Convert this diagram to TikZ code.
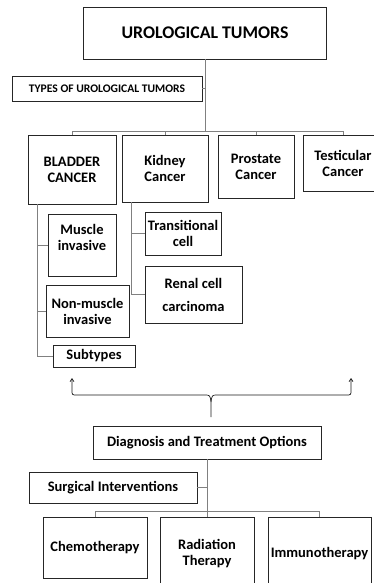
\documentclass[tikz,border=0pt]{standalone}
\usepackage{fontspec}
\setmainfont{Carlito}
\usetikzlibrary{
    positioning,                      % right=of, below=of
    arrows.meta                       % Straight Barb
}
\definecolor{linkgray}{RGB}{128,128,128}

\begin{document}
\begin{tikzpicture}[
        x=1pt, y=-1pt, font=\bfseries,
        box/.style={draw=black!85, line width=0.7pt, align=center, inner sep=1pt,
            font=\bfseries\fontsize{14.5}{16}\selectfont},
        head/.style={box, line width=0.9pt, font=\bfseries\fontsize{17.8}{20}\selectfont},
        small/.style={box, font=\bfseries\fontsize{11.6}{13}\selectfont},
        link/.style={draw=linkgray, line width=0.7pt},
        brace/.style={draw=black!90, line width=0.7pt, {Straight Barb[length=3pt,width=4pt]}-}]
        \useasboundingbox (0,0) rectangle (373,583);
        \node[head, minimum width=243, minimum height=52] (title) at (205,33) {UROLOGICAL TUMORS};
        \node[small, minimum width=190, minimum height=25] (types) at (107,88.5) {TYPES OF UROLOGICAL TUMORS};
        \coordinate (hub) at (205,131);
        \node[box, minimum width=88, minimum height=69] (bladder) at (72,169.5) {BLADDER\\CANCER};
        \node[box, minimum width=86, minimum height=67] (kidney) at (165,168.5) {Kidney\\Cancer};
        \node[box, minimum width=76, minimum height=63] (prostate) at (256,166.5) {Prostate\\Cancer};
        \node[box, minimum width=80, minimum height=56] (testicular) at (343,163) {Testicular\\Cancer};
        \node[box, minimum width=68, minimum height=62,
            label={[align=center, yshift=7.5pt, font=\bfseries\fontsize{14.5}{16}\selectfont]center:Muscle\\invasive}] (muscle) at (82,245) {};
        \node[box, minimum width=83, minimum height=52] (nonmuscle) at (87.5,311) {Non-muscle\\invasive};
        \node[box, minimum width=82, minimum height=22] (subtypes) at (94,356) {Subtypes};
        \node[box, minimum width=76, minimum height=43] (transitional) at (183,233.5) {Transitional\\cell};
        \node[box, minimum width=97, minimum height=57] (renal) at (193.5,294.5) {Renal cell\\[7pt]carcinoma};
        \coordinate (bspine) at ([xshift=-35pt]bladder.south);
        \coordinate (kspine) at ([xshift=-34pt]kidney.south);
        \draw[link] (title) -- (hub);
        \draw[link] (types.east) -- (types.east -| hub);
        \draw[link] (bladder.north) |- (hub);
        \draw[link] (kidney.north) |- (hub);
        \draw[link] (prostate.north) |- (hub);
        \draw[link] (testicular.north) |- (hub);
        \draw[link] (bspine) |- (subtypes.west);
        \draw[link] (muscle.west) -- (muscle.west -| bspine);
        \draw[link] (nonmuscle.west) -- (nonmuscle.west -| bspine);
        \draw[link] (kspine) |- (renal.west);
        \draw[link] (transitional.west) -- (transitional.west -| kspine);
        \coordinate (braceL) at (72,378);
        \coordinate (braceR) at (351,378);
        \coordinate (braceTip) at (211,417);
        \draw[brace] (braceL) -- (72,390) .. controls (72,395) .. (77,395) -- (204,395)
            .. controls (210,395) .. (211,402) -- (braceTip);
        \draw[brace] (braceR) -- (351,390) .. controls (351,395) .. (346,395) -- (218,395)
            .. controls (212,395) .. (211,402);
        \node[box, minimum width=228, minimum height=33] (diag) at (207,442.5) {Diagnosis and Treatment Options};
        \node[box, minimum width=168, minimum height=31] (surgical) at (113,487.5) {Surgical Interventions};
        \coordinate (thub) at (207,511);
        \node[box, minimum width=104, minimum height=61] (chemo) at (95,547.5) {Chemotherapy};
        \node[box, minimum width=94, minimum height=73] (radiation) at (207,553.5) {Radiation\\Therapy};
        \node[box, minimum width=103, minimum height=73] (immuno) at (319.5,553.5) {Immunotherapy};
        \draw[link] (diag) -- (thub);
        \draw[link] (surgical.east) -- (surgical.east -| thub);
        \draw[link] (chemo.north) |- (thub);
        \draw[link] (radiation.north) -- (thub);
        \draw[link] (immuno.north) |- (thub);
    \end{tikzpicture}
\end{document}
